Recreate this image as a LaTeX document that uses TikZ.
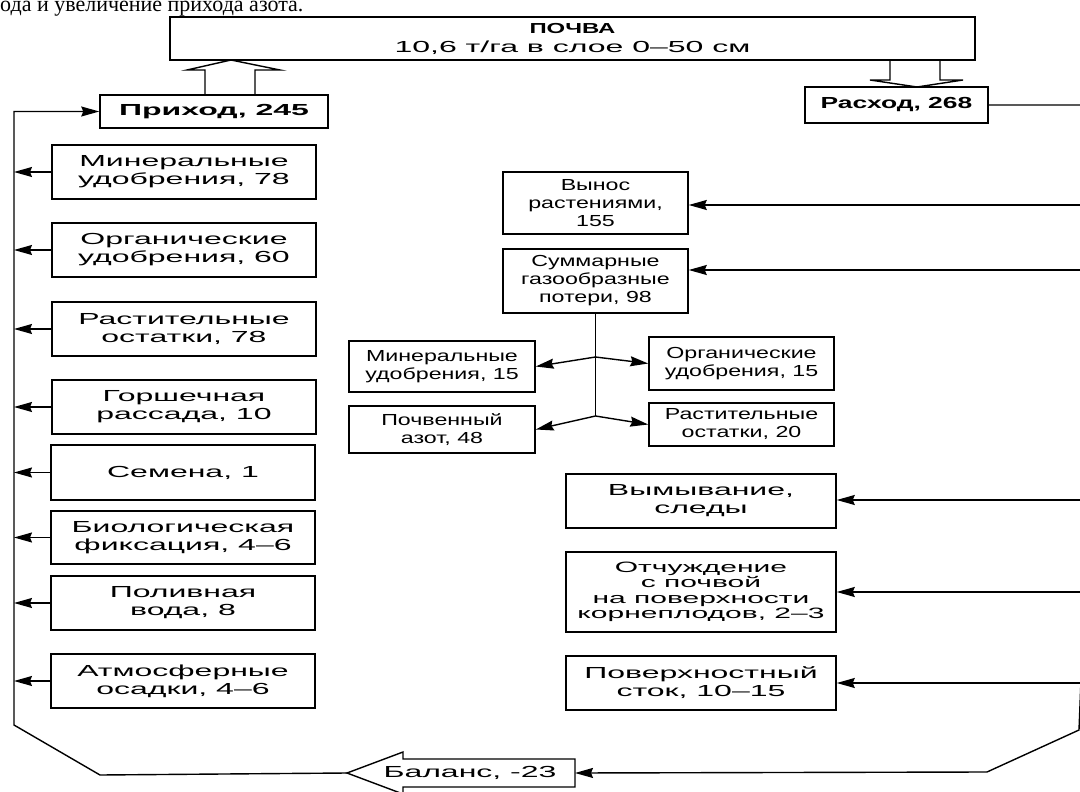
\documentclass[tikz,border=0pt]{standalone}
\usepackage{fontspec}
\setmainfont{Liberation Sans}[FakeStretch=2.0]
\newfontfamily\wideB{Liberation Sans}[FakeStretch=1.45]
\newfontfamily\wideC{Liberation Sans}[FakeStretch=1.65]
\newfontfamily\serifT{Liberation Serif}
\usetikzlibrary{arrows.meta}
\tikzset{
  bx/.style={draw, line width=1.5pt, inner sep=0pt, align=center, font=\fontsize{16}{18}\selectfont},
  bxB/.style={bx, font=\wideB\fontsize{16}{18}\selectfont},
  arr/.style={line width=1.4pt, -{Stealth[length=18pt,width=10pt,inset=2pt]}},
  ln/.style={line width=1.4pt},
  hol/.style={line width=1.4pt, line join=miter},
}
\begin{document}
\begin{tikzpicture}[x=1pt,y=-1pt]
\useasboundingbox (0,0) rectangle (1080,792);
\fill[white] (0,0) rectangle (1080,792);
\clip (0,0) rectangle (1080,792);

% line of the page text above the figure
\node[anchor=base west, inner sep=0pt, font=\serifT\fontsize{22}{22}\selectfont] (toptext) at (0,12) {ода и увеличение прихода азота.};

% top box
\node[bx, minimum width=805pt, minimum height=43pt] (pochva) at (572.5,38.5)
  {{\wideC\bfseries\fontsize{14.5}{16}\selectfont ПОЧВА}\\[1pt]10,6 т/га в слое 0–50 см};

\node[bx, minimum width=228pt, minimum height=33pt, font=\bfseries\fontsize{16}{18}\selectfont] (prihod) at (214,111.5) {Приход, 245};
\node[bx, minimum width=183pt, minimum height=36pt, font=\wideC\bfseries\fontsize{16}{18}\selectfont] (rashod) at (896.5,105) {Расход, 268};

% hollow arrows
\draw[hol] (205,95) -- (205,70) -- (187,70) -- (231,60) -- (280,70) -- (255,70) -- (255,95);
\draw[hol] (890,60) -- (890,80) -- (870,80) -- (917,87) -- (963,80) -- (940,80) -- (940,60);

% left column
\node[bx, minimum width=264pt, minimum height=54pt] (in1) at (184,172) {Минеральные\\удобрения, 78};
\node[bx, minimum width=264pt, minimum height=54pt] (in2) at (184,250) {Органические\\удобрения, 60};
\node[bx, minimum width=264pt, minimum height=54pt] (in3) at (184,329) {Растительные\\остатки, 78};
\node[bx, minimum width=264pt, minimum height=54pt] (in4) at (184,407) {Горшечная\\рассада, 10};
\node[bx, minimum width=264pt, minimum height=55pt] (in5) at (183,472.5) {Семена, 1};
\node[bx, minimum width=264pt, minimum height=53pt] (in6) at (183,537.5) {Биологическая\\фиксация, 4–6};
\node[bx, minimum width=264pt, minimum height=54pt] (in7) at (183,603) {Поливная\\вода, 8};
\node[bx, minimum width=264pt, minimum height=54pt] (in8) at (183,681) {Атмосферные\\осадки, 4–6};

\coordinate (L) at (14,0);
\foreach \n in {in1,in2,in3,in4,in5,in6,in7,in8}
  \draw[arr] (\n.west) -- (\n.west -| L);

% right column, upper group
\node[bxB, minimum width=185pt, minimum height=62pt] (vynos) at (595.5,203) {Вынос\\растениями,\\155};
\node[bxB, minimum width=185pt, minimum height=64pt] (summ) at (595.5,281) {Суммарные\\газообразные\\потери, 98};
\node[bxB, minimum width=186pt, minimum height=51pt] (min2) at (442,366.5) {Минеральные\\удобрения, 15};
\node[bxB, minimum width=186pt, minimum height=47pt] (pochv) at (442,429.5) {Почвенный\\азот, 48};
\node[bxB, minimum width=185pt, minimum height=53pt] (org2) at (741.5,363.5) {Органические\\удобрения, 15};
\node[bxB, minimum width=185pt, minimum height=43pt] (rast2) at (741.5,424.5) {Растительные\\остатки, 20};

\coordinate (J1) at (595.5,357);
\coordinate (J2) at (595.5,416);
\draw[ln] (summ.south) -- (J2);
\draw[arr] (J1) -- (min2.east);
\draw[arr] (J1) -- (org2.west);
\draw[arr] (J2) -- (pochv.east);
\draw[arr] (J2) -- (rast2.west);

% right column, lower group
\node[bx, minimum width=270pt, minimum height=54pt] (vym) at (701,501) {Вымывание,\\следы};
\node[bx, minimum width=270pt, minimum height=80pt, font=\fontsize{15}{15.5}\selectfont] (otch) at (701,592) {Отчуждение\\с почвой\\на поверхности\\корнеплодов, 2–3};
\node[bx, minimum width=270pt, minimum height=54pt] (pov) at (701,683) {Поверхностный\\сток, 10–15};

\coordinate (R) at (1081,0);
\draw[arr] (R |- 0,205) -- (vynos.east |- 0,205);
\draw[arr] (R |- 0,270) -- (summ.east |- 0,270);
\draw[arr] (R |- 0,500) -- (vym.east |- 0,500);
\draw[arr] (R |- otch.east) -- (otch.east);
\draw[arr] (R |- pov.east) -- (pov.east);

% balance
\node[inner sep=0pt, font=\fontsize{16}{18}\selectfont] (baltext) at (470,773) {Баланс, -23};
\draw[hol] (575,759) -- (403,759) -- (403,752) -- (347,773) -- (403,794) -- (403,787) -- (575,787) -- cycle;
\coordinate (balE) at (575,773);
\coordinate (balT) at (347,773);

\coordinate (RA) at (1080,680);
\coordinate (RB) at (1079,730);
\coordinate (RC) at (987,772);
\draw[arr] (rashod.east) -- (R |- rashod.east) -- (R |- RA) -- (RB) -- (RC) -- (balE);

\coordinate (LB1) at (100,775);
\coordinate (LB2) at (14,725);
\draw[arr] (balT) -- (LB1) -- (LB2) -- (L |- prihod.west) -- (prihod.west);
\end{tikzpicture}
\end{document}
